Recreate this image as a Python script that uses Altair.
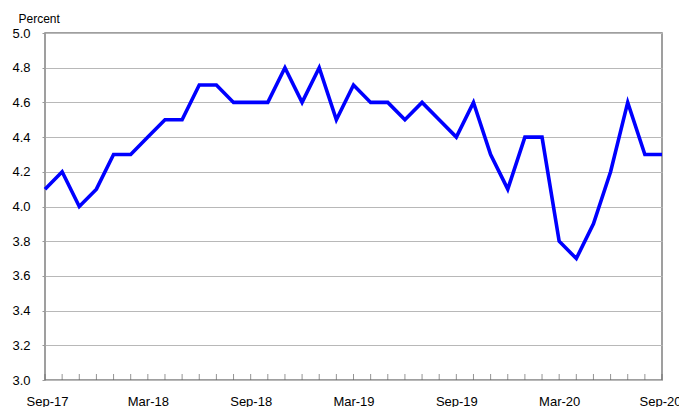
import altair as alt
import pandas as pd

months = ["Sep-17","Oct-17","Nov-17","Dec-17","Jan-18","Feb-18","Mar-18","Apr-18","May-18","Jun-18","Jul-18","Aug-18",
          "Sep-18","Oct-18","Nov-18","Dec-18","Jan-19","Feb-19","Mar-19","Apr-19","May-19","Jun-19","Jul-19","Aug-19",
          "Sep-19","Oct-19","Nov-19","Dec-19","Jan-20","Feb-20","Mar-20","Apr-20","May-20","Jun-20","Jul-20","Aug-20","Sep-20"]
values = [4.1,4.2,4.0,4.1,4.3,4.3,4.4,4.5,4.5,4.7,4.7,4.6,
          4.6,4.6,4.8,4.6,4.8,4.5,4.7,4.6,4.6,4.5,4.6,4.5,
          4.4,4.6,4.3,4.1,4.4,4.4,3.8,3.7,3.9,4.2,4.6,4.3,4.3]
y_ticks = [3.0,3.2,3.4,3.6,3.8,4.0,4.2,4.4,4.6,4.8,5.0]
label_step = 6

df = pd.DataFrame({"idx": list(range(len(months))), "month": months, "value": values})

month_list = "[" + ",".join("'" + s + "'" for s in months) + "]"
label_expr = "datum.value % " + str(label_step) + " == 0 ? " + month_list + "[datum.value] : ''"
n_last = len(months) - 1

x_enc = alt.X("idx:Q", scale=alt.Scale(domain=[0, n_last], nice=False, zero=False),
              axis=alt.Axis(title=None, labelAngle=0, labelOverlap=False,
                            values=list(range(len(months))),
                            labelExpr=label_expr, labelFlush=True, labelFlushOffset=19,
                            ticks=False, domain=False, grid=False,
                            labelFont="Liberation Sans", labelFontSize=13, labelColor="#000000",
                            labelPadding=15))
y_enc = alt.Y("value:Q", scale=alt.Scale(domain=[3.0, 5.0], nice=False),
              axis=alt.Axis(values=y_ticks, format=".1f", labelOverlap=False,
                            title="Percent", titleAngle=0, titleAlign="left", titleBaseline="bottom",
                            titleX=-27, titleY=-8, titleFont="Liberation Sans", titleFontSize=12,
                            titleFontWeight="normal", titleColor="#000000",
                            tickSize=3, tickColor="#999999", domain=False,
                            gridColor="#b8b8b8", gridWidth=1.2, gridOpacity=1,
                            labelFont="Liberation Sans", labelFontSize=13, labelColor="#000000",
                            labelPadding=12))

line = alt.Chart(df).mark_line(color="#0000FF", strokeWidth=3.6).encode(x=x_enc, y=y_enc)

ticks = alt.Chart(df).mark_tick(orient="vertical", size=6, yOffset=-3, color="#666666", thickness=1).encode(
    x=alt.X("idx:Q", axis=None),
    y=alt.YDatum(3.0, axis=None),
)

chart = alt.layer(line, ticks).resolve_axis(x="independent", y="independent").properties(
    width=617, height=347,
    autosize=alt.AutoSizeParams(type="none"),
    padding={"left": 37, "top": 25, "right": 17, "bottom": 27},
).configure_view(stroke="#808080", strokeWidth=1.5)

chart.save("out.html", embed_options={"renderer": "svg", "actions": False})
